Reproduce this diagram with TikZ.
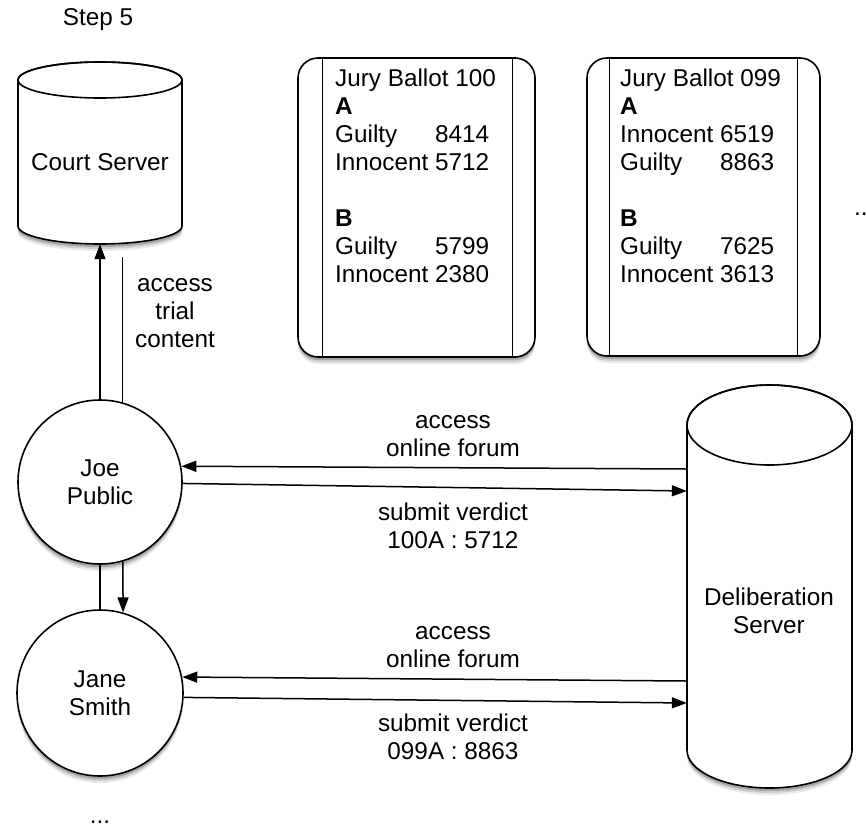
\documentclass[tikz,border=0pt]{standalone}
\usepackage{fontspec}
\setmainfont{Liberation Sans}
\usetikzlibrary{arrows.meta,shadows,calc}
\begin{document}
\begin{tikzpicture}[x=1pt,y=1pt,
  every node/.style={font=\fontsize{24.3}{28}\selectfont},
  shad/.style={general shadow={shadow xshift=0pt,shadow yshift=-7pt,opacity=0.08,fill=black},
               general shadow={shadow xshift=0pt,shadow yshift=-5pt,opacity=0.12,fill=black},
               general shadow={shadow xshift=0pt,shadow yshift=-3pt,opacity=0.2,fill=black}},
  shapeline/.style={draw=black,line width=1.6pt,fill=white},
  person/.style={circle,shapeline,shad,align=center,inner sep=0pt},
  ballot/.style={rectangle,rounded corners=20pt,shapeline,shad,inner sep=0pt},
  ghost/.style={rectangle,inner sep=0pt,draw=none,fill=none},
  arr/.style={line width=1.5pt,-{Triangle[length=15pt,width=11pt]}},
  conn/.style={line width=1.5pt},
  thinconn/.style={line width=1pt},
  lbl/.style={align=center,inner sep=0pt}
]
\useasboundingbox (0,0) rectangle (866,-825);

% Step label
\node[lbl] (step) at (98,-20) {Step 5};

% Court server cylinder
\path[shapeline,shad] (18,-80) -- (18,-226) arc[start angle=180,end angle=360,x radius=82,y radius=18]
   -- (182,-80) arc[start angle=0,end angle=180,x radius=82,y radius=18] -- cycle;
\draw[line width=1.6pt] (100,-80) ellipse[x radius=82,y radius=18];
\node[ghost,minimum width=164pt,minimum height=182pt] (court) at (100,-153) {};
\node[lbl] (courtlbl) at (100,-162) {Court Server};

% Deliberation server cylinder
\path[shapeline,shad] (687,-425) -- (687,-750) arc[start angle=180,end angle=360,x radius=82.5,y radius=38]
   -- (852,-425) arc[start angle=0,end angle=180,x radius=82.5,y radius=40] -- cycle;
\draw[line width=1.6pt] (769.5,-425) ellipse[x radius=82.5,y radius=40];
\node[ghost,minimum width=165pt,minimum height=403pt] (delib) at (769.5,-586.5) {};
\node[lbl] (delibl) at (769,-611) {Deliberation\\Server};

% Ballots
\node[ballot,minimum width=237pt,minimum height=299pt] (b100) at (416.5,-207.5) {};
\draw[line width=1.2pt] ([xshift=25pt]b100.north west) -- ([xshift=25pt]b100.south west);
\draw[line width=1.2pt] ([xshift=-23pt]b100.north east) -- ([xshift=-23pt]b100.south east);
\node[anchor=base west,inner sep=0pt] (t100) at (335,-86) {%
  \begin{tabular}[t]{@{}l@{ }l@{}}
  \multicolumn{2}{@{}l@{}}{Jury Ballot 100}\\
  \textbf{A} & \\
  Guilty & 8414\\
  Innocent & 5712\\
  & \\
  \textbf{B} & \\
  Guilty & 5799\\
  Innocent & 2380
  \end{tabular}};

\node[ballot,minimum width=233pt,minimum height=298pt] (b099) at (703.5,-207) {};
\draw[line width=1.2pt] ([xshift=23pt]b099.north west) -- ([xshift=23pt]b099.south west);
\draw[line width=1.2pt] ([xshift=-23pt]b099.north east) -- ([xshift=-23pt]b099.south east);
\node[anchor=base west,inner sep=0pt] (t099) at (620,-86) {%
  \begin{tabular}[t]{@{}l@{ }l@{}}
  \multicolumn{2}{@{}l@{}}{Jury Ballot 099}\\
  \textbf{A} & \\
  Innocent & 6519\\
  Guilty & 8863\\
  & \\
  \textbf{B} & \\
  Guilty & 7625\\
  Innocent & 3613
  \end{tabular}};

\node[anchor=base west,inner sep=0pt] (moreb) at (854,-215) {...};

% People
\node[person,minimum size=164pt] (joe) at (100,-482) {Joe\\Public};
\node[person,minimum size=166pt] (jane) at (100,-693) {Jane\\Smith};
\node[anchor=base,inner sep=0pt] (morep) at (100,-823) {...};

% Connectors Joe - Court
\coordinate (tc) at (0,-257);
\draw[arr] (joe.north) -- (court.south);
\draw[thinconn] (joe.74) -- (joe.74 |- tc);
\node[lbl] (trial) at (175,-313) {access\\trial\\content};

% Joe - Jane
\draw[conn] (joe.south) -- (jane.north);
\draw[arr] (joe.-74) -- (jane.74);

% Joe - Deliberation
\draw[arr] (delib.west |- 0,-469) -- (joe.11);
\draw[arr] (joe.-1) -- (delib.west |- 0,-491);
\node[lbl] (acc1) at (453,-436) {access\\online forum};
\node[lbl] (sub1) at (453,-526) {submit verdict\\100A : 5712};

% Jane - Deliberation
\draw[arr] (delib.west |- 0,-681) -- (jane.11);
\draw[arr] (jane.-3) -- (delib.west |- 0,-703);
\node[lbl] (acc2) at (453,-647) {access\\online forum};
\node[lbl] (sub2) at (453,-737) {submit verdict\\099A : 8863};
\end{tikzpicture}
\end{document}
